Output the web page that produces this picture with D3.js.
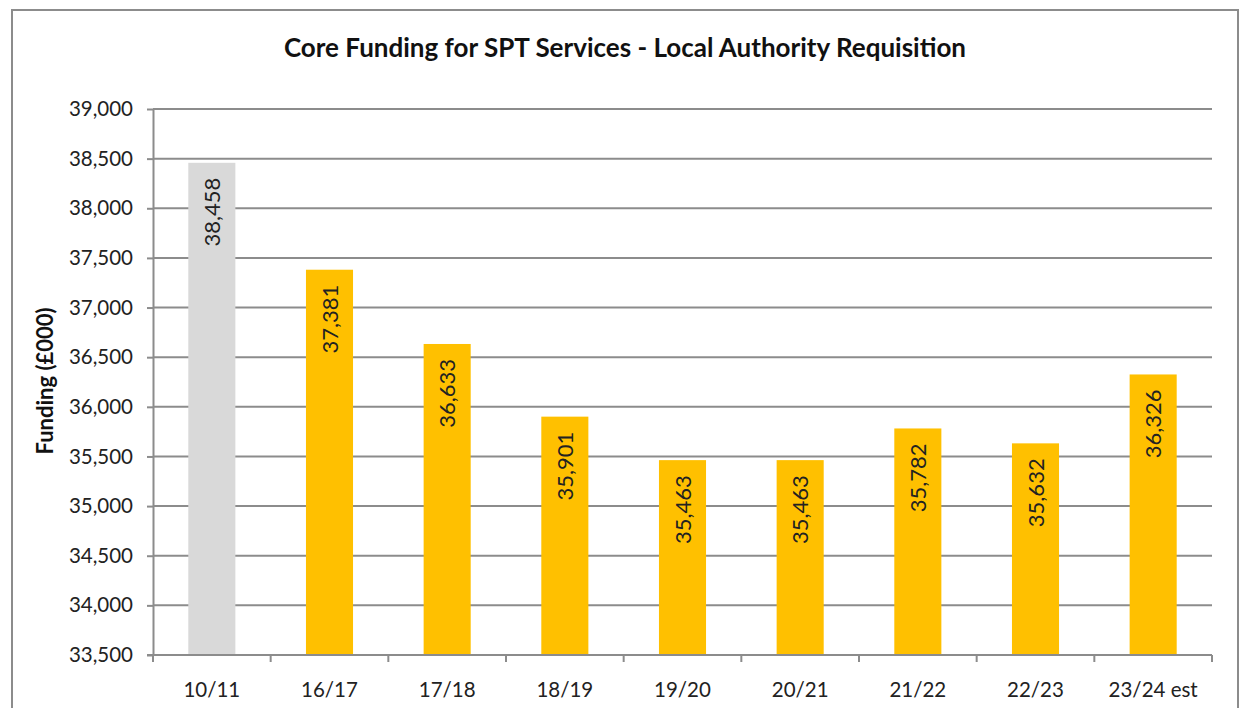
<!DOCTYPE html>
<html><head><meta charset="utf-8">
<script src="https://cdn.jsdelivr.net/npm/d3@7"></script>
<style>body{margin:0;background:#fff;} svg{display:block;}</style>
</head><body>
<script>
const categories = ["10/11","16/17","17/18","18/19","19/20","20/21","21/22","22/23","23/24 est"];
const values = [38458,37381,36633,35901,35463,35463,35782,35632,36326];
const barColors = ["#D9D9D9","#FFC000","#FFC000","#FFC000","#FFC000","#FFC000","#FFC000","#FFC000","#FFC000"];
const yTicks = [33500,34000,34500,35000,35500,36000,36500,37000,37500,38000,38500,39000];
const title = "Core Funding for SPT Services - Local Authority Requisition";
const yTitle = "Funding (£000)";

(function(){
const W = 1240, H = 708;
const font = "Lato, 'Open Sans', sans-serif";
const svg = d3.select("body").append("svg").attr("width", W).attr("height", H);

svg.append("rect").attr("x",12).attr("y",10).attr("width",1226).attr("height",706)
  .attr("fill","#fff").attr("stroke","#8c8c8c").attr("stroke-width",2);

const pLeft = 153, pRight = 1212, pTop = 109, pBottom = 655;
const x = d3.scaleBand().domain(categories).range([pLeft,pRight]).paddingInner(0.6).paddingOuter(0.3);
const y = d3.scaleLinear().domain([33500,39000]).range([pBottom,pTop]);

svg.append("g").selectAll("line").data(yTicks.slice(1)).join("line")
  .attr("x1",pLeft).attr("x2",pRight).attr("y1",d=>y(d)).attr("y2",d=>y(d))
  .attr("stroke","#8c8c8c").attr("stroke-width",2);

svg.append("g").selectAll("rect").data(values).join("rect")
  .attr("x",(d,i)=>x(categories[i])).attr("width",x.bandwidth())
  .attr("y",d=>y(d)).attr("height",d=>pBottom-y(d))
  .attr("fill",(d,i)=>barColors[i]);

const yAxis = d3.axisLeft(y).tickValues(yTicks).tickFormat(d3.format(",")).tickSize(6).tickSizeOuter(0);
const gy = svg.append("g").attr("transform",`translate(${pLeft},0)`).call(yAxis);
gy.select(".domain").attr("stroke","#8c8c8c").attr("stroke-width",2);
gy.selectAll(".tick line").attr("stroke","#8c8c8c").attr("stroke-width",2);
gy.selectAll("text").attr("font-family",font).attr("font-size",20.5).attr("fill","#222").attr("dx",-11);

const step = (pRight-pLeft)/categories.length;
const xb = d3.range(categories.length+1).map(i=>pLeft+i*step);
const gx = svg.append("g").attr("transform",`translate(0,${pBottom})`);
gx.append("line").attr("x1",pLeft-6).attr("x2",pRight).attr("stroke","#8c8c8c").attr("stroke-width",2);
gx.selectAll("line.tk").data(xb).join("line").attr("class","tk")
  .attr("x1",d=>d).attr("x2",d=>d).attr("y1",0).attr("y2",7)
  .attr("stroke","#8c8c8c").attr("stroke-width",2);
gx.selectAll("text").data(categories).join("text")
  .attr("x",d=>x(d)+x.bandwidth()/2).attr("y",42)
  .attr("text-anchor","middle").attr("font-family",font).attr("font-size",20.5).attr("fill","#222")
  .text(d=>d);

svg.append("g").selectAll("text").data(values).join("text")
  .attr("transform",(d,i)=>`translate(${x(categories[i])+x.bandwidth()/2+8},${y(d)+15}) rotate(-90)`)
  .attr("text-anchor","end").attr("font-family",font).attr("font-size",22).attr("fill","#222")
  .text(d=>d3.format(",")(d));

svg.append("text").attr("x",625).attr("y",57).attr("text-anchor","middle")
  .attr("font-family",font).attr("font-weight","bold").attr("font-size",26).attr("fill","#111").text(title);
svg.append("text").attr("transform",`translate(53,381) rotate(-90)`).attr("text-anchor","middle")
  .attr("font-family",font).attr("font-weight","bold").attr("font-size",22).attr("fill","#111").text(yTitle);
})();
</script>
</body></html>
